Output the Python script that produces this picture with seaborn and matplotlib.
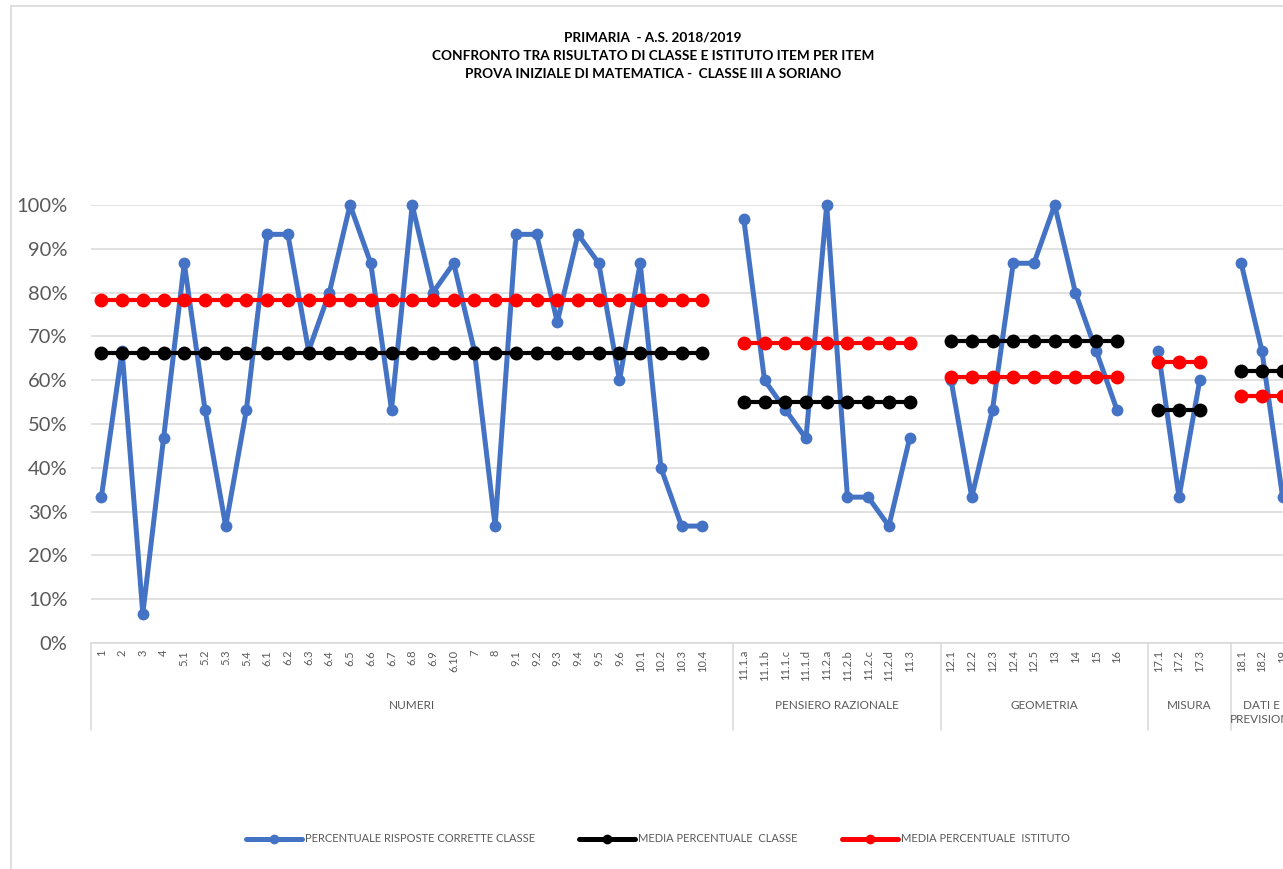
import pandas as pd
import seaborn as sns
import matplotlib.pyplot as plt
from matplotlib.lines import Line2D
import matplotlib.transforms as mtransforms

# dati
gruppi = ["NUMERI", "PENSIERO RAZIONALE", "GEOMETRIA", "MISURA", "DATI E\nPREVISIONI"]

item_numeri = ["1", "2", "3", "4", "5.1", "5.2", "5.3", "5.4", "6.1", "6.2", "6.3", "6.4",
               "6.5", "6.6", "6.7", "6.8", "6.9", "6.10", "7", "8", "9.1", "9.2", "9.3",
               "9.4", "9.5", "9.6", "10.1", "10.2", "10.3", "10.4"]
item_pensiero = ["11.1.a", "11.1.b", "11.1.c", "11.1.d", "11.2.a", "11.2.b", "11.2.c", "11.2.d", "11.3"]
item_geometria = ["12.1", "12.2", "12.3", "12.4", "12.5", "13", "14", "15", "16"]
item_misura = ["17.1", "17.2", "17.3"]
item_dati = ["18.1", "18.2", "19"]

classe_numeri = [33.3, 66.7, 6.7, 46.7, 86.7, 53.3, 26.7, 53.3, 93.3, 93.3, 66.7, 80.0,
                 100.0, 86.7, 53.3, 100.0, 80.0, 86.7, 66.7, 26.7, 93.3, 93.3, 73.3,
                 93.3, 86.7, 60.0, 86.7, 40.0, 26.7, 26.7]
classe_pensiero = [96.7, 60.0, 53.3, 46.7, 100.0, 33.3, 33.3, 26.7, 46.7]
classe_geometria = [60.0, 33.3, 53.3, 86.7, 86.7, 100.0, 80.0, 66.7, 53.3]
classe_misura = [66.7, 33.3, 60.0]
classe_dati = [86.7, 66.7, 33.3]

media_classe = [66.2, 55.0, 68.9, 53.3, 62.2]
media_istituto = [78.3, 68.5, 60.7, 64.2, 56.5]

item_gruppi = [item_numeri, item_pensiero, item_geometria, item_misura, item_dati]
valori_gruppi = [classe_numeri, classe_pensiero, classe_geometria, classe_misura, classe_dati]

serie_nomi = ["PERCENTUALE RISPOSTE CORRETTE CLASSE", "MEDIA PERCENTUALE  CLASSE",
              "MEDIA PERCENTUALE  ISTITUTO"]
colori = ["#4472C4", "black", "#FF0000"]

# tabella lunga con una colonna vuota tra i gruppi (come nel foglio excel)
righe = []
etichette = []
confini = [-0.5]
centri = []
pos = 0
for g, (nome, items, vals) in enumerate(zip(gruppi, item_gruppi, valori_gruppi)):
    start = pos
    for it, v in zip(items, vals):
        righe.append((pos, v / 100, serie_nomi[0], nome))
        righe.append((pos, media_classe[g] / 100, serie_nomi[1], nome))
        righe.append((pos, media_istituto[g] / 100, serie_nomi[2], nome))
        etichette.append(it)
        pos += 1
    if g < len(gruppi) - 1:
        etichette.append("")
        pos += 1
    centri.append((start - 0.5 + pos - 0.5) / 2)
    confini.append(pos - 0.5)
df = pd.DataFrame(righe, columns=["pos", "val", "serie", "gruppo"])

sns.set_style("white")
plt.rcParams['font.family'] = ['Lato', 'DejaVu Sans']

W, H = 1283, 869
fig = plt.figure(figsize=(W / 100, H / 100), dpi=100)
ax = fig.add_axes([91 / W, 226 / H, 1202 / W, 438 / H])

stili = [dict(lw=3.6, ms=8.5), dict(lw=3.0, ms=10), dict(lw=3.0, ms=10)]
for nome, col, st in zip(serie_nomi, colori, stili):
    sns.lineplot(data=df[df["serie"] == nome], x="pos", y="val", units="gruppo",
                 estimator=None, color=col, marker="o", markersize=st["ms"],
                 markeredgewidth=0, linewidth=st["lw"], legend=False, ax=ax,
                 clip_on=False, zorder=3)

ax.set_xlim(-0.5, pos - 0.5)
ax.set_ylim(0, 1)
ax.set_yticks([i / 10 for i in range(11)])
ax.set_yticklabels([f"{i * 10}%" for i in range(11)], fontsize=14.5, color="#595959")
ax.set_xticks(range(len(etichette)))
ax.set_xticklabels(etichette, rotation=90, fontsize=8, color="#595959", va="top")
ax.tick_params(axis="both", length=0)
ax.tick_params(axis="y", pad=17)
ax.tick_params(axis="x", pad=5)
ax.set_xlabel("")
ax.set_ylabel("")
ax.grid(axis="y", color="#D9D9D9", lw=1.1)
ax.set_axisbelow(True)
for s in ["top", "right", "left"]:
    ax.spines[s].set_visible(False)
ax.spines["bottom"].set_color("#D9D9D9")
ax.spines["bottom"].set_linewidth(1.1)

trans = mtransforms.blended_transform_factory(ax.transData, ax.transAxes)
fondo = (643 - 730) / 438
for c in confini[:-1]:
    ax.plot([c, c], [0, fondo], color="#D9D9D9", lw=1.1, transform=trans, clip_on=False)
for nome, c in zip(gruppi, centri):
    ax.text(c, (643 - 700) / 438, nome, transform=trans, ha="center", va="top",
            fontsize=8.5, color="#595959", linespacing=1.35)

# titolo
titoli = ["PRIMARIA  - A.S. 2018/2019",
          "CONFRONTO TRA RISULTATO DI CLASSE E ISTITUTO ITEM PER ITEM",
          "PROVA INIZIALE DI MATEMATICA -  CLASSE III A SORIANO"]
for t, y in zip(titoli, [37, 56, 74]):
    fig.text(653 / W, 1 - y / H, t, ha="center", va="center", fontsize=9.8,
             fontweight="bold", color="black")

# legenda
maniglie = [Line2D([], [], color=c, lw=3.6, marker="o", ms=7, markeredgewidth=0)
            for c in colori]
leg = fig.legend(maniglie, serie_nomi, loc="center", bbox_to_anchor=(658 / W, 1 - 839 / H),
                 ncol=3, frameon=False, fontsize=8, handlelength=5.0,
                 handletextpad=0.3, columnspacing=4.0, numpoints=1)
for t in leg.get_texts():
    t.set_color("#595959")

# bordo dell'area del grafico
fig.add_artist(Line2D([11 / W, 11 / W], [0, 1 - 6 / H], color="#D9D9D9", lw=1.2))
fig.add_artist(Line2D([11 / W, 1], [1 - 6 / H, 1 - 6 / H], color="#D9D9D9", lw=1.2))

fig.savefig("out.png", dpi=100)
